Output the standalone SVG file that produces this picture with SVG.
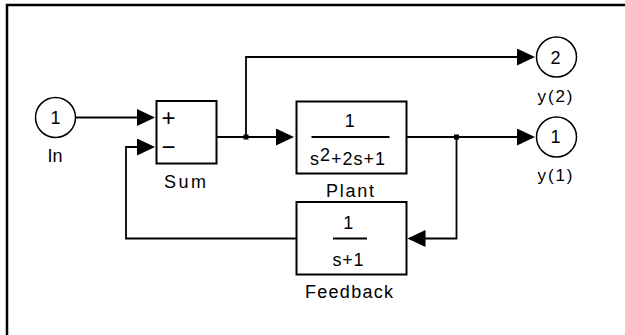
<svg xmlns="http://www.w3.org/2000/svg" width="625" height="335" viewBox="0 0 625 335">
<style>
.blk{fill:#fff;stroke:#000;stroke-width:2}
.port{fill:#fff;stroke:#000;stroke-width:1.5}
.wire{fill:none;stroke:#000;stroke-width:1.8}
.t{font-family:"Liberation Sans",Arial,sans-serif;font-size:18px;fill:#000}
.s{font-size:17px}
.pm{font-size:24px}
.m{text-anchor:middle}
</style>
<defs>
<marker id="arr" markerUnits="userSpaceOnUse" markerWidth="20" markerHeight="18" refX="16" refY="8.5" orient="auto">
<path d="M0,0 L18,8.5 L0,17 z" fill="#000"/>
</marker>
</defs>
<rect width="625" height="335" fill="#fff"/>
<path d="M7,335 V5 H625" fill="none" stroke="#000" stroke-width="2.5"/>

<g id="connectors">
<path class="wire" d="M75.5,117.5 H153" marker-end="url(#arr)"/>
<path class="wire" d="M216.5,137 H292" marker-end="url(#arr)"/>
<path class="wire" d="M246,137 V57 H533" marker-end="url(#arr)"/>
<path class="wire" d="M406.5,137 H533" marker-end="url(#arr)"/>
<path class="wire" d="M456.5,137 V238.5 H409.5" marker-end="url(#arr)"/>
<path class="wire" d="M296.5,238.5 H126 V147 H153" marker-end="url(#arr)"/>
<rect x="243.5" y="134.5" width="5" height="5" fill="#000"/>
<rect x="454" y="134.5" width="5" height="5" fill="#000"/>
</g>

<g id="In">
<circle class="port" cx="55.5" cy="117.5" r="20"/>
<text class="t m" x="55.5" y="124">1</text>
<text class="t m" x="55" y="162">In</text>
</g>

<g id="Sum">
<rect class="blk" x="156.5" y="101" width="60" height="62.5"/>
<text class="t m pm" x="168.5" y="126.3">+</text>
<text class="t m pm" x="168.5" y="155.3">−</text>
<text class="t m" x="185" y="187.5" textLength="42" lengthAdjust="spacing">Sum</text>
</g>

<g id="Plant">
<rect class="blk" x="296.5" y="101.5" width="110" height="72"/>
<text class="t m" x="349.7" y="127">1</text>
<line x1="311.5" y1="137" x2="389.5" y2="137" stroke="#000" stroke-width="1.8"/>
<text class="t" x="310" y="164.5" textLength="75" lengthAdjust="spacing">s<tspan dy="-4">2</tspan><tspan dy="4">+2s+1</tspan></text>
<text class="t m" x="350" y="197" textLength="48" lengthAdjust="spacing">Plant</text>
</g>

<g id="Feedback">
<rect class="blk" x="296.5" y="202" width="110" height="72.5"/>
<text class="t m" x="348.3" y="228.5">1</text>
<line x1="333" y1="238.5" x2="367" y2="238.5" stroke="#000" stroke-width="1.8"/>
<text class="t" x="332.5" y="265.5" textLength="31" lengthAdjust="spacing">s+1</text>
<text class="t" x="305" y="297.5" textLength="88" lengthAdjust="spacing">Feedback</text>
</g>

<g id="y2">
<circle class="port" cx="556.5" cy="57" r="20"/>
<text class="t m" x="555.5" y="63.5">2</text>
<text class="t s" x="537.5" y="101.5" textLength="35" lengthAdjust="spacing">y(2)</text>
</g>

<g id="y1">
<circle class="port" cx="556.5" cy="137" r="20"/>
<text class="t m" x="555.5" y="143">1</text>
<text class="t s" x="537.5" y="180.5" textLength="35" lengthAdjust="spacing">y(1)</text>
</g>
</svg>
